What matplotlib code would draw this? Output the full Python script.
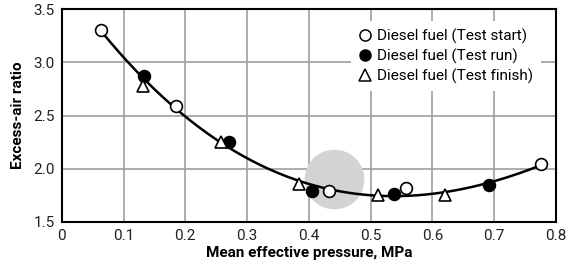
import numpy as np
import matplotlib.pyplot as plt
from matplotlib.lines import Line2D

plt.rcParams['font.family'] = ['Roboto', 'DejaVu Sans']

# test start (open circles)
start_x = [0.064, 0.185, 0.433, 0.558, 0.776]
start_y = [3.30, 2.59, 1.79, 1.82, 2.04]
# test run (filled circles)
run_x = [0.133, 0.271, 0.405, 0.538, 0.692]
run_y = [2.87, 2.25, 1.79, 1.76, 1.85]
# test finish (triangles)
fin_x = [0.132, 0.257, 0.384, 0.512, 0.621]
fin_y = [2.78, 2.25, 1.86, 1.75, 1.75]
# highlighted region
hl_x = [0.44]
hl_y = [1.90]

labels = ['Diesel fuel (Test start)', 'Diesel fuel (Test run)', 'Diesel fuel (Test finish)']

fig = plt.figure(figsize=(5.72, 2.76), dpi=100)
ax = fig.add_axes([0.108, 0.196, 0.864, 0.771])

ax.scatter(hl_x, hl_y, s=1850, color='#d3d3d5', zorder=1, linewidths=0)

# fitted trend line through all points
all_x = np.array(start_x + run_x + fin_x)
all_y = np.array(start_y + run_y + fin_y)
coef = np.polyfit(all_x, all_y, 3)
xx = np.linspace(min(start_x), max(start_x), 200)
ax.plot(xx, np.polyval(coef, xx), color='black', lw=1.8, zorder=3)

ms = 8.5
ax.plot(start_x, start_y, 'o', ms=ms, mfc='white', mec='black', mew=1.2, zorder=4)
ax.plot(run_x, run_y, 'o', ms=ms, mfc='black', mec='black', mew=1.2, zorder=4)
ax.plot(fin_x, fin_y, '^', ms=ms, mfc='white', mec='black', mew=1.2, zorder=4)

ax.set_xlim(0, 0.8)
ax.set_ylim(1.5, 3.5)
ax.set_xticks(np.arange(0, 0.81, 0.1))
ax.set_xticklabels(['0', '0.1', '0.2', '0.3', '0.4', '0.5', '0.6', '0.7', '0.8'])
ax.set_yticks([1.5, 2.0, 2.5, 3.0, 3.5])
ax.set_yticklabels(['1.5', '2.0', '2.5', '3.0', '3.5'])
ax.tick_params(length=0, labelsize=11, pad=5, colors='#222222')
ax.grid(True, color='#a0a0a0', lw=1.2)
ax.set_axisbelow(True)
for s in ax.spines.values():
    s.set_linewidth(1.5)

ax.set_xlabel('Mean effective pressure, MPa', fontsize=11, fontweight='bold', labelpad=2)
ax.set_ylabel('Excess-air ratio', fontsize=11, fontweight='bold', labelpad=6)

handles = [
    Line2D([], [], ls='none', marker='o', ms=8, mfc='white', mec='black', mew=1.1),
    Line2D([], [], ls='none', marker='o', ms=8, mfc='black', mec='black'),
    Line2D([], [], ls='none', marker='^', ms=8, mfc='white', mec='black', mew=1.1),
]
leg = ax.legend(handles, labels, loc='upper right', bbox_to_anchor=(0.985, 0.98),
                fontsize=11, frameon=True, fancybox=False, handlelength=0.8,
                handletextpad=0.4, labelspacing=0.3, borderpad=0.5)
leg.get_frame().set_facecolor('white')
leg.get_frame().set_edgecolor('none')
leg.get_frame().set_alpha(1)

fig.savefig('out.png', dpi=100)
